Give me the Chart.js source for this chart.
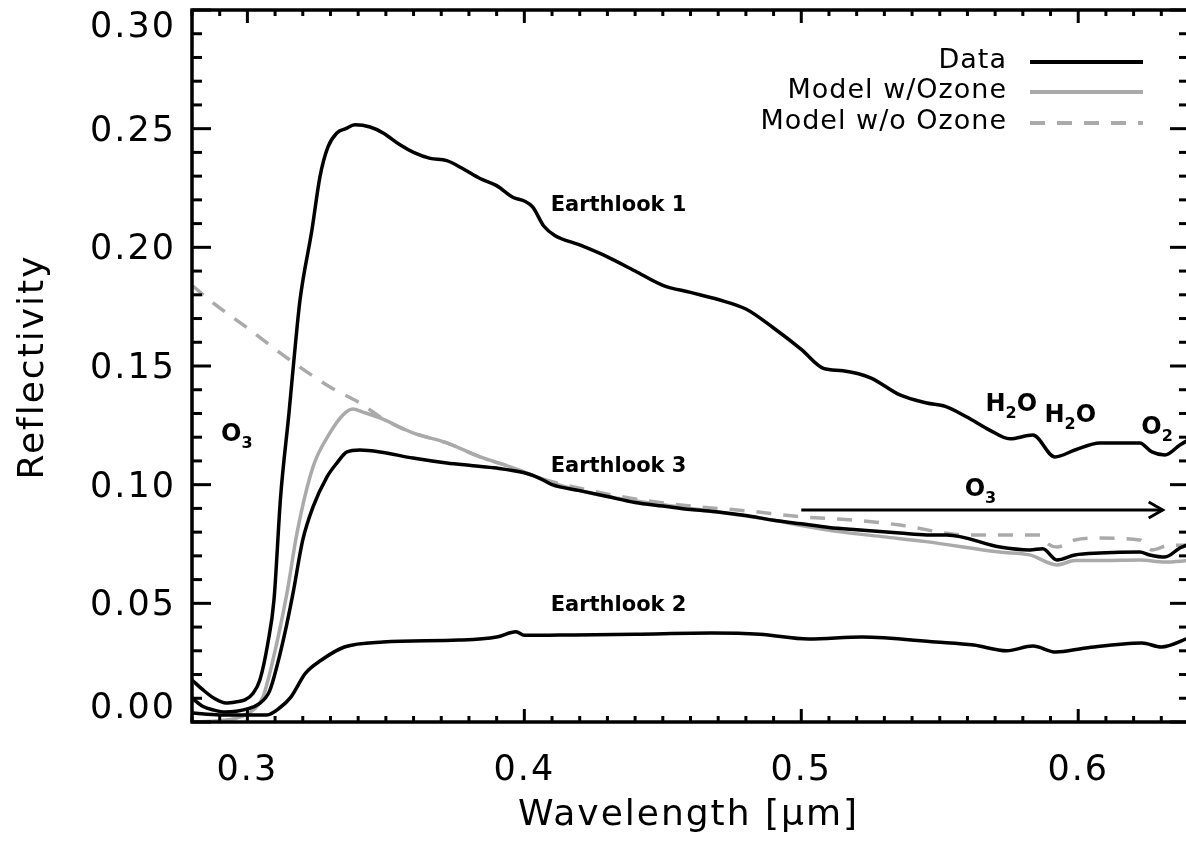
<!DOCTYPE html>
<html>
<head>
<meta charset="utf-8">
<script src="https://cdn.jsdelivr.net/npm/chart.js@4"></script>
<style>
  html, body { margin: 0; padding: 0; background: #fff; overflow: hidden; }
  canvas { display: block; }
</style>
</head>
<body>
<canvas id="myChart" width="1192" height="851"></canvas>
<script>
// Earthlook 1 (data)
const look1X = [0.280, 0.284, 0.288, 0.2923, 0.296, 0.2991, 0.302, 0.3045, 0.3074, 0.3096, 0.312, 0.315, 0.317, 0.319, 0.3233, 0.3262, 0.3291, 0.3323, 0.3355, 0.3388, 0.3443, 0.349, 0.3551, 0.360, 0.366, 0.372, 0.378, 0.384, 0.390, 0.396, 0.400, 0.403, 0.407, 0.411, 0.420, 0.430, 0.440, 0.450, 0.460, 0.470, 0.480, 0.490, 0.500, 0.508, 0.515, 0.525, 0.5356, 0.5453, 0.552, 0.5598, 0.568, 0.5753, 0.5836, 0.5916, 0.5988, 0.6078, 0.6222, 0.6266, 0.6313, 0.6367, 0.640];
const look1Y = [0.0177, 0.0135, 0.010, 0.008, 0.0085, 0.0093, 0.012, 0.0177, 0.0333, 0.0514, 0.095, 0.130, 0.155, 0.1778, 0.2073, 0.2297, 0.2423, 0.2482, 0.250, 0.2516, 0.2507, 0.2482, 0.2432, 0.240, 0.2375, 0.2365, 0.233, 0.229, 0.226, 0.221, 0.2195, 0.217, 0.209, 0.205, 0.201, 0.196, 0.190, 0.184, 0.181, 0.178, 0.174, 0.166, 0.157, 0.149, 0.148, 0.145, 0.1378, 0.1344, 0.1330, 0.1285, 0.1230, 0.1193, 0.1209, 0.1117, 0.1146, 0.1176, 0.1176, 0.1138, 0.1125, 0.1167, 0.119];

// Earthlook 3 (data)
const look3X = [0.280, 0.284, 0.288, 0.292, 0.296, 0.300, 0.304, 0.308, 0.311, 0.314, 0.3165, 0.320, 0.3237, 0.3287, 0.3323, 0.336, 0.3406, 0.3479, 0.3598, 0.372, 0.3814, 0.390, 0.400, 0.405, 0.410, 0.420, 0.430, 0.440, 0.450, 0.460, 0.470, 0.480, 0.490, 0.500, 0.510, 0.520, 0.5356, 0.5453, 0.5526, 0.5717, 0.5825, 0.5872, 0.5923, 0.5988, 0.6078, 0.6222, 0.6258, 0.6313, 0.6367, 0.640];
const look3Y = [0.010, 0.0065, 0.005, 0.0042, 0.0045, 0.0055, 0.0075, 0.013, 0.025, 0.040, 0.0544, 0.0767, 0.0906, 0.1032, 0.1091, 0.1138, 0.1146, 0.1138, 0.1112, 0.1091, 0.108, 0.107, 0.105, 0.103, 0.100, 0.0975, 0.095, 0.0925, 0.091, 0.0895, 0.0885, 0.087, 0.085, 0.0835, 0.082, 0.081, 0.0796, 0.0788, 0.0788, 0.0737, 0.0725, 0.073, 0.0683, 0.0704, 0.0712, 0.0716, 0.0704, 0.0695, 0.0733, 0.075];

// Earthlook 2 (data)
const look2X = [0.280, 0.290, 0.300, 0.307, 0.3117, 0.3157, 0.321, 0.3266, 0.335, 0.349, 0.3764, 0.390, 0.397, 0.400, 0.418, 0.440, 0.4677, 0.485, 0.5027, 0.522, 0.5486, 0.5623, 0.5742, 0.5836, 0.5919, 0.6027, 0.623, 0.630, 0.640];
const look2Y = [0.0038, 0.003, 0.003, 0.003, 0.006, 0.0105, 0.0206, 0.026, 0.0316, 0.0337, 0.0345, 0.0358, 0.038, 0.0365, 0.0367, 0.037, 0.0375, 0.037, 0.035, 0.0358, 0.0337, 0.0324, 0.030, 0.032, 0.0295, 0.0312, 0.0333, 0.0316, 0.0354];

// Model with ozone
const ozoneX = [0.280, 0.290, 0.2962, 0.302, 0.3056, 0.309, 0.3143, 0.3179, 0.3237, 0.3298, 0.3345, 0.3381, 0.3417, 0.3479, 0.3598, 0.372, 0.384, 0.395, 0.405, 0.415, 0.430, 0.450, 0.470, 0.490, 0.500, 0.515, 0.530, 0.545, 0.5717, 0.5825, 0.5923, 0.5988, 0.6078, 0.6222, 0.6313, 0.640];
const ozoneY = [0.000, 0.0005, 0.0017, 0.005, 0.0105, 0.025, 0.0544, 0.0796, 0.1075, 0.1218, 0.1294, 0.1319, 0.1306, 0.1281, 0.1218, 0.1176, 0.1117, 0.1075, 0.103, 0.099, 0.095, 0.0915, 0.0885, 0.085, 0.0828, 0.080, 0.078, 0.076, 0.0716, 0.0704, 0.0662, 0.068, 0.068, 0.0683, 0.0674, 0.068];

// Model without ozone
const noOzoneX = [0.280, 0.2876, 0.300, 0.3154, 0.330, 0.3406, 0.350, 0.3598, 0.372, 0.384, 0.395, 0.405, 0.420, 0.440, 0.460, 0.480, 0.500, 0.520, 0.5356, 0.5598, 0.5862, 0.5887, 0.5923, 0.5988, 0.6078, 0.6222, 0.6266, 0.633, 0.640];
const noOzoneY = [0.184, 0.1766, 0.166, 0.1525, 0.141, 0.1344, 0.127, 0.1218, 0.1176, 0.1117, 0.1075, 0.103, 0.0985, 0.094, 0.091, 0.089, 0.0865, 0.085, 0.083, 0.0788, 0.0788, 0.0754, 0.0737, 0.0767, 0.0775, 0.0767, 0.0725, 0.0745, 0.0745];

// axis ticks
const xTickLabels = ["0.3", "0.4", "0.5", "0.6"];
const yTickLabels = ["0.00", "0.05", "0.10", "0.15", "0.20", "0.25", "0.30"];
const legendLabels = ["Data", "Model w/Ozone", "Model w/o Ozone"];

const GRAY = "rgb(170, 170, 170)";
const FONT = "'DejaVu Sans', sans-serif";

// labels placed on the plot (positions in data units)
const notes = [
    { text: "Earthlook 1", x: 0.4095, y: 0.2175 },
    { text: "Earthlook 3", x: 0.4095, y: 0.1075 },
    { text: "Earthlook 2", x: 0.4095, y: 0.0490 },
];
const molecules = [
    { a: "O", sub: "3", b: "", x: 0.2905, y: 0.121 },
    { a: "H", sub: "2", b: "O", x: 0.5665, y: 0.1335 },
    { a: "H", sub: "2", b: "O", x: 0.5878, y: 0.129 },
    { a: "O", sub: "2", b: "", x: 0.6228, y: 0.124 },
    { a: "O", sub: "3", b: "", x: 0.5590, y: 0.098 },
];

function pairs(xs, ys) {
    return xs.map((x, i) => ({ x: x, y: ys[i] }));
}

function line(ctx, x1, y1, x2, y2) {
    ctx.beginPath();
    ctx.moveTo(x1, y1);
    ctx.lineTo(x2, y2);
    ctx.stroke();
}

// frame, inward ticks, labels and annotations
const frame = {
    id: "frame",
    afterDatasetsDraw(chart) {
        const { ctx, chartArea: a, scales: { x, y } } = chart;
        ctx.save();
        ctx.strokeStyle = "#000";
        ctx.fillStyle = "#000";
        ctx.lineCap = "butt";

        // box
        ctx.lineWidth = 3.5;
        ctx.strokeRect(a.left, a.top, a.right - a.left, a.bottom - a.top);

        // x ticks every 0.01, major every 0.1
        ctx.lineWidth = 3;
        for (let i = 0; i <= 36; i++) {
            const px = x.getPixelForValue(0.28 + i * 0.01);
            const len = (i % 10 === 2) ? 13 : 6;
            line(ctx, px, a.bottom, px, a.bottom - len);
            line(ctx, px, a.top, px, a.top + len);
        }
        // y ticks every 0.01, major every 0.05
        for (let i = 0; i <= 30; i++) {
            const py = y.getPixelForValue(i * 0.01);
            const len = (i % 5 === 0) ? 19 : 10;
            line(ctx, a.left, py, a.left + len, py);
            line(ctx, a.right, py, a.right - len, py);
        }

        // tick labels
        ctx.font = "35px " + FONT;
        ctx.letterSpacing = "2px";
        ctx.textBaseline = "middle";
        ctx.textAlign = "right";
        yTickLabels.forEach((t) => {
            let py = y.getPixelForValue(parseFloat(t)) + 3;
            py = Math.min(Math.max(py, 28), 709);
            ctx.fillText(t, 176, py);
        });
        ctx.textAlign = "center";
        xTickLabels.forEach((t) => {
            ctx.fillText(t, x.getPixelForValue(parseFloat(t)), 771);
        });

        // axis titles
        ctx.font = "36px " + FONT;
        ctx.fillText("Wavelength [\u03bcm]", (a.left + a.right) / 2 - 2, 816);
        ctx.save();
        ctx.translate(34, 367);
        ctx.rotate(-Math.PI / 2);
        ctx.fillText("Reflectivity", 0, 0);
        ctx.restore();

        // legend
        const legendColors = ["#000", GRAY, GRAY];
        const legendDash = [[], [], [15, 12]];
        const rowsY = [62, 92, 123];
        ctx.font = "27px " + FONT;
        ctx.letterSpacing = "1px";
        ctx.textAlign = "right";
        legendLabels.forEach((t, i) => {
            ctx.fillText(t, 1007, rowsY[i] - 1);
            ctx.strokeStyle = legendColors[i];
            ctx.lineWidth = 4;
            ctx.setLineDash(legendDash[i]);
            line(ctx, 1030, rowsY[i], 1143, rowsY[i]);
        });
        ctx.setLineDash([]);
        ctx.strokeStyle = "#000";

        // Earthlook names
        ctx.letterSpacing = "0px";
        ctx.textAlign = "left";
        ctx.font = "bold 21px " + FONT;
        notes.forEach((n) => {
            ctx.fillText(n.text, x.getPixelForValue(n.x), y.getPixelForValue(n.y));
        });

        // molecules with subscripts
        molecules.forEach((m) => {
            let px = x.getPixelForValue(m.x);
            const py = y.getPixelForValue(m.y);
            ctx.font = "bold 24px " + FONT;
            ctx.fillText(m.a, px, py);
            px += ctx.measureText(m.a).width;
            ctx.font = "bold 16px " + FONT;
            ctx.fillText(m.sub, px, py + 9);
            px += ctx.measureText(m.sub).width;
            if (m.b) {
                ctx.font = "bold 24px " + FONT;
                ctx.fillText(m.b, px, py);
            }
        });

        // ozone band arrow
        const ax1 = x.getPixelForValue(0.5);
        const ax2 = x.getPixelForValue(0.6305);
        const ay = y.getPixelForValue(0.0893);
        ctx.lineWidth = 3;
        line(ctx, ax1, ay, ax2, ay);
        ctx.beginPath();
        ctx.moveTo(ax2 - 14, ay - 8);
        ctx.lineTo(ax2, ay);
        ctx.lineTo(ax2 - 14, ay + 8);
        ctx.stroke();

        ctx.restore();
    },
};

function dataset(xs, ys, color, dash) {
    return {
        data: pairs(xs, ys),
        borderColor: color,
        borderWidth: 3.5,
        borderDash: dash,
        pointRadius: 0,
        cubicInterpolationMode: "monotone",
        fill: false,
    };
}

window.onload = function () {
    const ctx = document.getElementById("myChart").getContext("2d");
    window.graph = new Chart(ctx, {
        type: "line",
        data: {
            datasets: [
                dataset(look1X, look1Y, "#000", []),
                dataset(look3X, look3Y, "#000", []),
                dataset(look2X, look2Y, "#000", []),
                dataset(ozoneX, ozoneY, GRAY, []),
                dataset(noOzoneX, noOzoneY, GRAY, [15, 12]),
            ],
        },
        plugins: [frame],
        options: {
            responsive: false,
            animation: false,
            layout: { padding: { left: 192, right: 3, top: 10, bottom: 129 } },
            plugins: { legend: { display: false }, tooltip: { enabled: false } },
            scales: {
                x: { type: "linear", min: 0.28, max: 0.64, display: false },
                y: { type: "linear", min: 0, max: 0.30, display: false },
            },
        },
    });
};
</script>
</body>
</html>
